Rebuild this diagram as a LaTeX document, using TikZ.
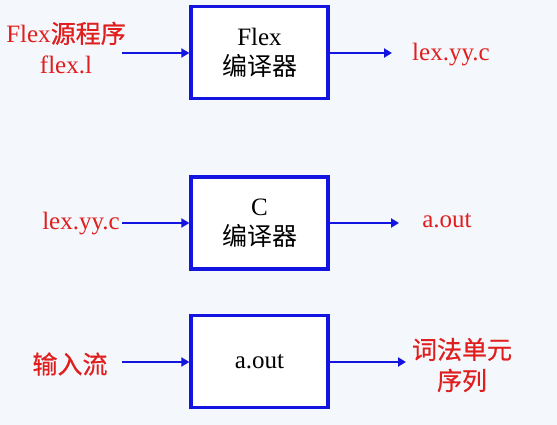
\documentclass[tikz,border=0pt]{standalone}
\usepackage{fontspec}
\setmainfont{Liberation Serif}
\newfontfamily\tms{Liberation Serif}
\newfontfamily\cjk{Noto Sans CJK SC}
\newfontfamily\cjkb[FakeBold=0.6]{Noto Sans CJK SC}
\usetikzlibrary{arrows.meta}
\definecolor{boxblue}{RGB}{20,20,225}
\definecolor{lblred}{RGB}{225,30,30}
\definecolor{bgc}{RGB}{244,247,251}
\tikzset{
  procbox/.style={draw=boxblue, line width=3.3pt, fill=white, minimum width=137pt, minimum height=92pt, inner sep=0pt, align=center, font=\tms\fontsize{25}{31}\selectfont},
  lbl/.style={text=lblred, align=center, inner sep=0pt, font=\tms\fontsize{25}{31}\selectfont},
  flow/.style={draw=boxblue, line width=2.8pt, -{Triangle[length=8pt,width=9pt]}}
}
\begin{document}
\begin{tikzpicture}[x=1pt,y=-1pt]
\fill[bgc] (0,0) rectangle (557,425);
\useasboundingbox (0,0) rectangle (557,425);
% box 1
\node[procbox] (b1) at (259.5,52.5) {Flex\\[-1pt]{\cjk 编译器}};
\node[lbl] (in1) at (66,48) {Flex{\cjkb 源程序}\\flex.l};
\coordinate (s1) at (122,53);
\node[lbl, anchor=west] (out1) at (412,55) {lex.yy.c};
\coordinate (e1) at (392,53);
\draw[flow] (s1) -- (b1.west |- s1);
\draw[flow] (b1.east |- s1) -- (e1);
% box 2
\node[procbox] (b2) at (259.5,223) {C\\[-1pt]{\cjk 编译器}};
\node[lbl, anchor=east] (in2) at (120,224) {lex.yy.c};
\coordinate (s2) at (122,223);
\node[lbl] (out2) at (447,221) {a.out};
\coordinate (e2) at (399,223);
\draw[flow] (s2) -- (b2.west |- s2);
\draw[flow] (b2.east |- s2) -- (e2);
% box 3
\node[procbox] (b3) at (259.5,361.5) {a.out};
\node[lbl] (in3) at (70,364) {\cjkb 输入流};
\coordinate (s3) at (122,362);
\node[lbl] (out3) at (462,365) {\cjkb 词法单元\\\cjkb 序列};
\coordinate (e3) at (406,362);
\draw[flow] (s3) -- (b3.west |- s3);
\draw[flow] (b3.east |- s3) -- (e3);
\end{tikzpicture}
\end{document}
